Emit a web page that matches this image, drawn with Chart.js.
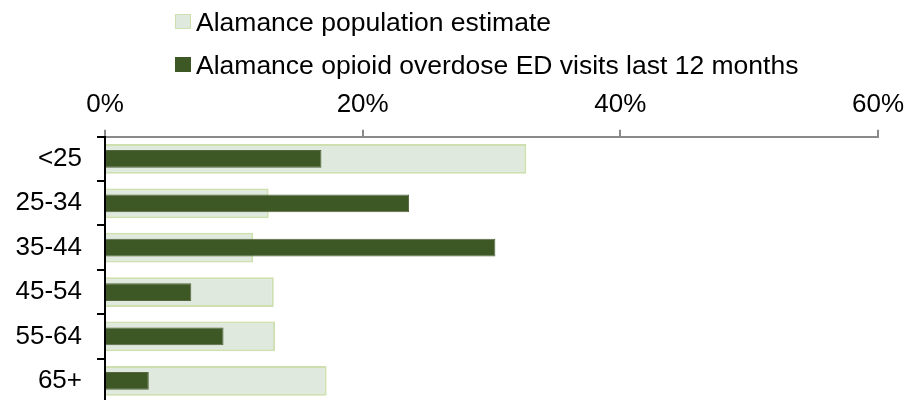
<!DOCTYPE html>
<html>
<head>
<meta charset="utf-8">
<script src="https://cdn.jsdelivr.net/npm/chart.js@4/dist/chart.umd.min.js"></script>
<style>
  body { margin: 0; overflow: hidden; background: #fff; font-family: "Liberation Sans", Arial, sans-serif; }
  #wrap { position: relative; width: 905px; height: 400px; overflow: hidden; }
  #legend { position: absolute; left: 175px; top: 0; font-size: 26.5px; color: #000; }
  .item { position: absolute; left: 0; white-space: nowrap; height: 30px; line-height: 30px; }
  .box { position: absolute; left: 0; top: 7px; width: 16px; height: 15px; box-sizing: border-box; }
  .item span { position: absolute; left: 21px; top: 0; }
</style>
</head>
<body>
<div id="wrap">
  <canvas id="ageChart" width="905" height="404"></canvas>
  <div id="legend"></div>
</div>
<script>
// age groups, top to bottom
const ageGroups = ['<25', '25-34', '35-44', '45-54', '55-64', '65+'];
// percent of population
const populationPct = [32.7, 12.7, 11.5, 13.1, 13.2, 17.2];
// percent of opioid overdose ED visits
const edVisitsPct = [16.8, 23.6, 30.3, 6.7, 9.2, 3.4];
const xTicks = [0, 20, 40, 60];

const seriesNames = ['Alamance population estimate', 'Alamance opioid overdose ED visits last 12 months'];
const popFill = '#dfe9dd', popBorder = '#cfe0b0';
const edFill = '#3d5824', edBorder = '#55663f';

// simple html legend (two rows, left aligned like the original)
const legend = document.getElementById('legend');
[[popFill, popBorder, 7], [edFill, edFill, 50]].forEach(function (s, i) {
    const item = document.createElement('div');
    item.className = 'item';
    item.style.top = s[2] + 'px';
    item.innerHTML = '<div class="box" style="background:' + s[0] + ';border:1.5px solid ' + s[1] + '"></div><span>' + seriesNames[i] + '</span>';
    legend.appendChild(item);
});

const ctx = document.getElementById('ageChart').getContext('2d');
new Chart(ctx, {
    type: 'bar',
    data: {
        labels: ageGroups,
        datasets: [{
            label: seriesNames[0],
            data: populationPct,
            backgroundColor: popFill,
            borderColor: popBorder,
            borderWidth: 2,
            grouped: false,
            order: 1,
            categoryPercentage: 1,
            barPercentage: 0.67
        }, {
            label: seriesNames[1],
            data: edVisitsPct,
            backgroundColor: edFill,
            borderColor: edBorder,
            borderWidth: 1,
            grouped: false,
            order: 0,
            categoryPercentage: 1,
            barPercentage: 0.40
        }]
    },
    options: {
        indexAxis: 'y',
        responsive: false,
        animation: false,
        layout: { padding: { top: 80.5, right: 27, bottom: 1, left: 0 } },
        plugins: { legend: { display: false }, tooltip: { enabled: false } },
        scales: {
            x: {
                position: 'top',
                min: 0,
                max: 60,
                afterBuildTicks: function (axis) {
                    axis.ticks = xTicks.map(function (v) { return { value: v }; });
                },
                afterFit: function (axis) { axis.paddingLeft = 0; axis.paddingRight = 0; },
                ticks: {
                    callback: function (v) { return v + '%'; },
                    color: '#000',
                    font: { family: 'Liberation Sans', size: 26 },
                    padding: 9,
                    maxRotation: 0
                },
                grid: { drawOnChartArea: false, color: '#8a8a8a', tickLength: 7, lineWidth: 2 },
                border: { color: '#8a8a8a', width: 2 }
            },
            y: {
                afterFit: function (axis) {
                    axis.width = 105;
                    axis.paddingTop = 0;
                    axis.paddingBottom = 0;
                },
                ticks: {
                    color: '#000',
                    font: { family: 'Liberation Sans', size: 26 },
                    padding: 15
                },
                grid: { offset: true, drawOnChartArea: false, color: '#000', tickLength: 8, lineWidth: 2 },
                border: { color: '#000', width: 2 }
            }
        }
    }
});
</script>
</body>
</html>
